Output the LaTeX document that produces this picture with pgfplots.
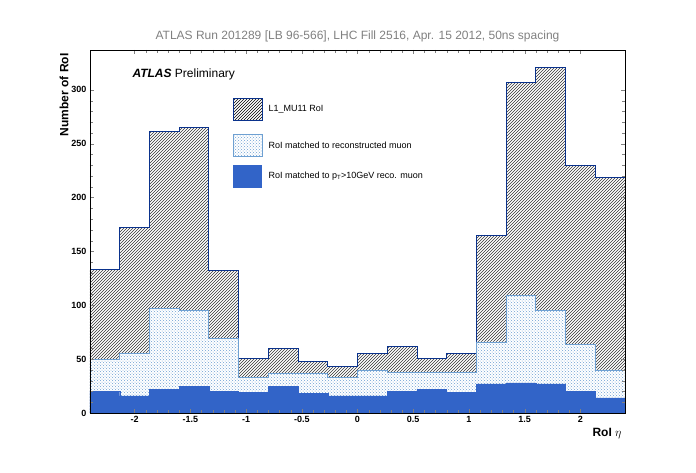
\documentclass[border=0pt]{standalone}
\usepackage{pgfplots}
\pgfplotsset{compat=1.18}
\usetikzlibrary{patterns}
\usepackage{amsmath}
\usepackage{fontspec}
\setmainfont{Liberation Sans}
\definecolor{dblue}{RGB}{10,50,140}
\definecolor{lblue}{RGB}{110,160,210}
\definecolor{mblue}{RGB}{50,100,200}
\begin{document}
\begin{tikzpicture}[x=1pt,y=1pt]
\begin{axis}[scale only axis, width=535pt, height=363pt,
 xmin=-2.4, xmax=2.4, ymin=0, ymax=337,
 xtick={-2,-1.5,...,2}, ytick={0,50,...,300},
 minor x tick num=4, minor y tick num=4,
 tick align=inside, ticks=both, xtick pos=both, ytick pos=both,
 tick label style={font=\bfseries\small}, /pgf/number format/assume math mode=true,
 xticklabel style={/pgf/number format/fixed},
 xlabel={\bfseries RoI $\eta$}, ylabel={\bfseries Number of RoI},
 xlabel style={at={(1,0)},anchor=north east,yshift=-12pt,font=\large},
 ylabel style={at={(0,1)},anchor=south east,yshift=18pt,font=\large},
 title={ATLAS Run 201289 [LB 96-566], LHC Fill 2516, Apr. 15 2012, 50ns spacing},
 title style={font=\large,text=gray,yshift=-2pt},
 axis on top, const plot]
\addplot[draw=dblue, thick, pattern=north east lines, pattern color=black!80] coordinates {
(-2.4,133)(-2.1333,172)(-1.8667,261)(-1.6,265)(-1.3333,132)(-1.0667,51)(-0.8,60)(-0.5333,48)(-0.2667,43)(0,55)(0.2667,62)(0.5333,51)(0.8,55)(1.0667,165)(1.3333,307)(1.6,321)(1.8667,230)(2.1333,219)(2.4,219)} \closedcycle;
\addplot[draw=lblue, thick, fill=white, postaction={pattern=crosshatch dots, pattern color=lblue}] coordinates {
(-2.4,50)(-2.1333,55)(-1.8667,97)(-1.6,95)(-1.3333,69)(-1.0667,33)(-0.8,37)(-0.5333,37)(-0.2667,33)(0,40)(0.2667,38)(0.5333,38)(0.8,38)(1.0667,66)(1.3333,109)(1.6,95)(1.8667,64)(2.1333,40)(2.4,40)} \closedcycle;
\addplot[draw=mblue, fill=mblue] coordinates {
(-2.4,20)(-2.1333,16)(-1.8667,22)(-1.6,25)(-1.3333,20)(-1.0667,19)(-0.8,25)(-0.5333,18)(-0.2667,16)(0,16)(0.2667,20)(0.5333,22)(0.8,19)(1.0667,27)(1.3333,28)(1.6,27)(1.8667,20)(2.1333,14)(2.4,14)} \closedcycle;
\node[anchor=west,font=\large] at (axis cs:-2.05,314) {\bfseries\itshape ATLAS\ \normalfont Preliminary};
\filldraw[draw=dblue,thick,pattern=north east lines] (axis cs:-1.117,272) rectangle (axis cs:-0.857,292);
\node[anchor=west,font=\small] at (axis cs:-0.83,282) {L1\_MU11 RoI};
\fill[white] (axis cs:-1.117,238) rectangle (axis cs:-0.857,259);
\filldraw[draw=lblue,thick,pattern=crosshatch dots,pattern color=lblue] (axis cs:-1.117,238) rectangle (axis cs:-0.857,259);
\node[anchor=west,font=\small] at (axis cs:-0.83,248.5) {RoI matched to reconstructed muon};
\fill[mblue] (axis cs:-1.117,209) rectangle (axis cs:-0.857,230);
\node[anchor=west,font=\small] at (axis cs:-0.83,219.5) {RoI matched to p$_{\mathrm{T}}$>10GeV reco. muon};
\end{axis}
\path[use as bounding box] ([shift={(-90pt,-59pt)}]current axis.south west) rectangle ([shift={(71pt,50pt)}]current axis.north east);
\end{tikzpicture}
\end{document}
